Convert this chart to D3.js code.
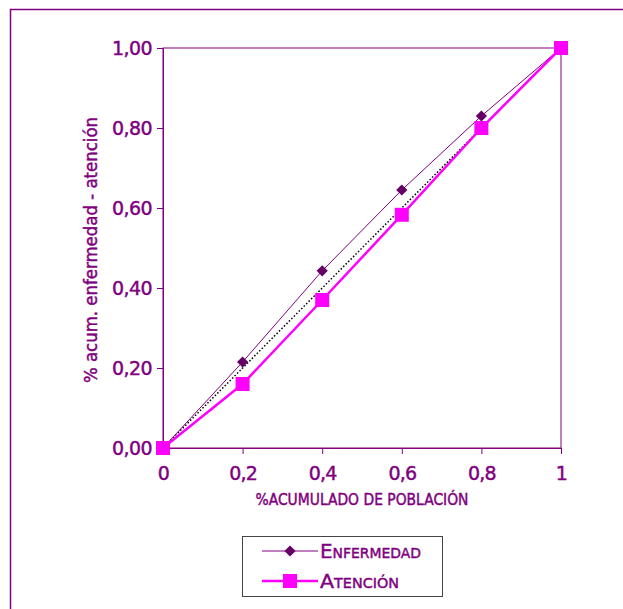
<!DOCTYPE html>
<html><head><meta charset="utf-8">
<script src="https://cdn.jsdelivr.net/npm/d3@7"></script>
<style>
html,body{margin:0;padding:0;background:#fff;}
svg{display:block;}
text{font-family:"DejaVu Sans",sans-serif;fill:#800080;stroke:#800080;stroke-width:0.45px;}
</style></head>
<body>
<script>
const xValues = [0, 0.2, 0.4, 0.6, 0.8, 1];
const enfermedad = [0, 0.215, 0.443, 0.645, 0.83, 1];
const atencion = [0, 0.16, 0.37, 0.583, 0.80, 1];
const diagonal = [0, 1];
const xTicks = [0, 0.2, 0.4, 0.6, 0.8, 1];
const xTickLabels = ["0", "0,2", "0,4", "0,6", "0,8", "1"];
const yTicks = [0, 0.2, 0.4, 0.6, 0.8, 1];
const yTickLabels = ["0,00", "0,20", "0,40", "0,60", "0,80", "1,00"];
const seriesNames = ["Enfermedad", "Atención"];
const xTitle = "%ACUMULADO DE POBLACIÓN";
const yTitle = "% acum. enfermedad - atención";

const W = 623, H = 609;
const purple = "#800080", dark = "#660066", magenta = "#FF00FF";
const svg = d3.select("body").append("svg").attr("width", W).attr("height", H);

// outer frame (extends off right/bottom)
svg.append("rect").attr("x", 10.5).attr("y", 9.5).attr("width", 700).attr("height", 700)
  .attr("fill", "none").attr("stroke", purple).attr("stroke-width", 1.5);

const x = d3.scaleLinear().domain([0, 1]).range([163, 561]);
const y = d3.scaleLinear().domain([0, 1]).range([448, 48]);

// plot box
svg.append("rect").attr("x", x(0)).attr("y", y(1)).attr("width", x(1) - x(0)).attr("height", y(0) - y(1))
  .attr("fill", "none").attr("stroke", purple).attr("stroke-width", 1);

const yAxis = svg.append("g").attr("transform", `translate(${x(0)},0)`)
  .call(d3.axisLeft(y).tickValues(yTicks).tickSize(6).tickPadding(5)
    .tickFormat((d, i) => yTickLabels[i]));
yAxis.select(".domain").attr("stroke", purple);
yAxis.selectAll(".tick line").attr("stroke", purple);
yAxis.selectAll(".tick text").attr("fill", purple).style("font-size", "19px")
  .attr("letter-spacing", "-0.6").attr("dy", "0.36em");

const xAxis = svg.append("g").attr("transform", `translate(0,${y(0)})`)
  .call(d3.axisBottom(x).tickValues(xTicks).tickSize(6).tickPadding(13)
    .tickFormat((d, i) => xTickLabels[i]));
xAxis.select(".domain").attr("stroke", purple);
xAxis.selectAll(".tick line").attr("stroke", purple);
xAxis.selectAll(".tick text").attr("fill", purple).style("font-size", "19px")
  .attr("letter-spacing", "-0.8");

// axis titles
svg.append("text").attr("x", 362).attr("y", 505).attr("text-anchor", "middle")
  .style("font-size", "15px").attr("textLength", 213).attr("lengthAdjust", "spacingAndGlyphs")
  .text(xTitle);
svg.append("text").attr("transform", "translate(97,250) rotate(-90)").attr("text-anchor", "middle")
  .style("font-size", "17px").attr("textLength", 266).attr("lengthAdjust", "spacingAndGlyphs")
  .text(yTitle);

// diagonal dotted line
const line = d3.line().x(d => x(d[0])).y(d => y(d[1]));
svg.append("path").datum(diagonal.map(v => [v, v])).attr("d", line)
  .attr("fill", "none").attr("stroke", "#000").attr("stroke-width", 1.5).attr("stroke-dasharray", "1.5,2");

const diamond = d3.symbol().type(d3.symbolDiamond2).size(80);
const sq = 14;

// Enfermedad series
const ePts = xValues.map((v, i) => [v, enfermedad[i]]);
svg.append("path").datum(ePts).attr("d", line).attr("fill", "none")
  .attr("stroke", purple).attr("stroke-width", 1);
svg.selectAll(".dm").data(ePts).enter().append("path")
  .attr("transform", d => `translate(${x(d[0])},${y(d[1])})`)
  .attr("d", diamond).attr("fill", dark);

// Atención series
const aPts = xValues.map((v, i) => [v, atencion[i]]);
svg.append("path").datum(aPts).attr("d", line).attr("fill", "none")
  .attr("stroke", magenta).attr("stroke-width", 2.5);
svg.selectAll(".sq").data(aPts).enter().append("rect")
  .attr("x", d => x(d[0]) - sq / 2).attr("y", d => y(d[1]) - sq / 2)
  .attr("width", sq).attr("height", sq).attr("fill", magenta);

// legend
svg.append("rect").attr("x", 242.5).attr("y", 536.5).attr("width", 200).attr("height", 60)
  .attr("fill", "#fff").attr("stroke", "#444").attr("stroke-width", 1);
const leg = [
  { name: seriesNames[0], y: 551, color: purple, w: 1, mark: "d", len: 101 },
  { name: seriesNames[1], y: 581, color: magenta, w: 2.5, mark: "s", len: 79 }
];
leg.forEach(l => {
  svg.append("line").attr("x1", 262).attr("x2", 318).attr("y1", l.y).attr("y2", l.y)
    .attr("stroke", l.color).attr("stroke-width", l.w);
  if (l.mark === "d") {
    svg.append("path").attr("transform", `translate(290,${l.y})`).attr("d", diamond).attr("fill", dark);
  } else {
    svg.append("rect").attr("x", 290 - sq / 2).attr("y", l.y - sq / 2).attr("width", sq).attr("height", sq).attr("fill", magenta);
  }
  svg.append("text").attr("x", 320).attr("y", l.y + 7).style("font-size", "20px")
    .style("font-variant", "small-caps").attr("textLength", l.len).attr("lengthAdjust", "spacingAndGlyphs")
    .text(l.name);
});
</script>
</body></html>
